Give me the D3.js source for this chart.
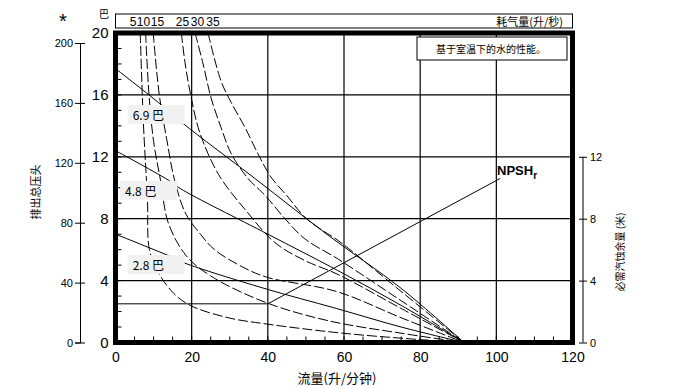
<!DOCTYPE html>
<html>
<head>
<meta charset="utf-8">
<script src="https://d3js.org/d3.v7.min.js"></script>
<style>
  body { margin: 0; background: #fff; }
  text { font-family: "Liberation Sans", Arial, sans-serif; fill: #000; }
  .cjk { font-family: "Noto Sans CJK SC", sans-serif; }
</style>
</head>
<body>
<svg id="chart" width="679" height="389"></svg>
<script>
// flow (L/min) and head (bar) for the three air inlet pressures
var pressureLabels = ["6.9 巴", "4.8 巴", "2.8 巴"];
var p69Flow = [0, 11.3, 17.5, 36.6, 56, 75, 91.5];
var p69Head = [17.7, 15.5, 14.2, 10.6, 6.9, 3.5, 0];
var p48Flow = [0, 14.5, 17, 40, 58, 75, 91.5];
var p48Head = [12.4, 10.4, 9.95, 7.0, 4.7, 2.4, 0];
var p28Flow = [0, 15, 18, 39, 58, 75, 91.5];
var p28Head = [7.0, 5.5, 5.15, 3.5, 2.2, 1.0, 0];

// air consumption curves (L/s)
var airLabels = ["5", "10", "15", "25", "30", "35"];
var air5Flow  = [6.5, 7.3, 8.4, 8.9, 11.3, 15.2, 19.6, 29.6, 39.5, 59.7, 79.3, 91.5];
var air5Head  = [20, 14.3, 9.2, 6.0, 4.5, 3.2, 2.4, 1.6, 1.2, 0.6, 0.2, 0];
var air10Flow = [7.9, 8.8, 10, 11.8, 13.9, 18.6, 25, 39.3, 56, 75, 91.5];
var air10Head = [20, 16, 13, 10.5, 7.7, 5.6, 4.3, 2.6, 1.4, 0.6, 0];
var air15Flow = [9.9, 11.5, 13.4, 15.6, 18.5, 22.3, 26, 34, 40, 58, 75, 91.5];
var air15Head = [20, 16, 13.2, 10.4, 8.3, 7.0, 6.0, 4.8, 4.2, 3.3, 1.6, 0];
var air25Flow = [17.3, 18.3, 19.9, 21.7, 24.3, 27.7, 34, 41.9, 49.7, 58.4, 75, 91.5];
var air25Head = [20, 18, 15.8, 13.9, 12.2, 10.6, 8.6, 6.45, 5.3, 4.4, 2.2, 0];
var air30Flow = [20.9, 23, 25.1, 27.7, 30.4, 34.8, 39.3, 44.5, 49.7, 58.4, 75, 91.5];
var air30Head = [20, 18, 15.8, 13.9, 12.2, 10.6, 9.5, 8.0, 6.7, 5.4, 2.7, 0];
var air35Flow = [24.3, 27.7, 30.4, 34, 37.4, 40.8, 45.3, 49.7, 54, 58.4, 75, 91.5];
var air35Head = [20, 16.9, 15.5, 13.9, 12.2, 10.7, 9.4, 8.1, 7.3, 6.6, 3.3, 0];

// NPSHr (m)
var npshFlow = [0, 40, 101];
var npshValue = [2.5, 2.5, 10.6];

// axis ticks
var flowTicks = [0, 20, 40, 60, 80, 100, 120];
var barTicks = [0, 4, 8, 12, 16, 20];
var feetTicks = [0, 40, 80, 120, 160, 200];
var npshTicks = [0, 4, 8, 12];

var svg = d3.select("#chart");

var x = d3.scaleLinear().domain([0, 120]).range([115.5, 572.5]);
var y = d3.scaleLinear().domain([0, 20]).range([342.5, 33]);
var yFeet = d3.scaleLinear().domain([0, 200]).range([342.5, 43]);
var yNpsh = d3.scaleLinear().domain([0, 20]).range([342.5, 33]);

function zip(a, b) { return a.map(function(v, i) { return [v, b[i]]; }); }

svg.append("clipPath").attr("id", "plot")
  .append("rect").attr("x", x(0)).attr("y", y(20))
  .attr("width", x(120) - x(0)).attr("height", y(0) - y(20));

// grid
var g = svg.append("g");
g.selectAll(".vg").data([20, 40, 60, 80, 100]).enter().append("line")
  .attr("x1", function(d) { return x(d); }).attr("x2", function(d) { return x(d); })
  .attr("y1", y(20)).attr("y2", y(0))
  .attr("stroke", "#000").attr("stroke-width", 1.2);
g.selectAll(".hg").data([4, 8, 12, 16]).enter().append("line")
  .attr("x1", x(0)).attr("x2", x(120))
  .attr("y1", function(d) { return y(d); }).attr("y2", function(d) { return y(d); })
  .attr("stroke", "#000").attr("stroke-width", 1.2);

// minor ticks
g.selectAll(".mx").data(d3.range(5, 120, 5)).enter().append("line")
  .attr("x1", function(d) { return x(d); }).attr("x2", function(d) { return x(d); })
  .attr("y1", y(0)).attr("y2", y(0) - 6)
  .attr("stroke", "#000").attr("stroke-width", 1);
g.selectAll(".my").data(d3.range(1, 20, 1)).enter().append("line")
  .attr("x1", x(0)).attr("x2", x(0) + 6)
  .attr("y1", function(d) { return y(d); }).attr("y2", function(d) { return y(d); })
  .attr("stroke", "#000").attr("stroke-width", 1);

var line = d3.line()
  .x(function(d) { return x(d[0]); })
  .y(function(d) { return y(d[1]); })
  .curve(d3.curveCatmullRom.alpha(0.5));

var curves = svg.append("g").attr("clip-path", "url(#plot)");

var airSeries = [
  zip(air5Flow, air5Head), zip(air10Flow, air10Head), zip(air15Flow, air15Head),
  zip(air25Flow, air25Head), zip(air30Flow, air30Head), zip(air35Flow, air35Head)
];
curves.selectAll(".air").data(airSeries).enter().append("path")
  .attr("d", line)
  .attr("fill", "none").attr("stroke", "#000").attr("stroke-width", 1)
  .attr("stroke-dasharray", "10,3");

var pressSeries = [zip(p69Flow, p69Head), zip(p48Flow, p48Head), zip(p28Flow, p28Head)];
curves.selectAll(".press").data(pressSeries).enter().append("path")
  .attr("d", line)
  .attr("fill", "none").attr("stroke", "#000").attr("stroke-width", 1);

curves.append("path")
  .attr("d", d3.line()
    .x(function(d) { return x(d[0]); })
    .y(function(d) { return yNpsh(d[1]); })(zip(npshFlow, npshValue)))
  .attr("fill", "none").attr("stroke", "#000").attr("stroke-width", 1);

// pressure labels on grey patches
var labelPos = [[3.2, 14.7], [1.2, 9.8], [3.2, 5.0]];
pressureLabels.forEach(function(t, i) {
  var lx = x(labelPos[i][0]), ly = y(labelPos[i][1]);
  svg.append("rect").attr("x", lx).attr("y", ly - 10)
    .attr("width", 57).attr("height", 19).attr("fill", "#f1f1f1");
  svg.append("text").attr("class", "cjk")
    .attr("x", lx + 5).attr("y", ly + 5)
    .attr("font-size", 12).text(t);
});

// thick frame
svg.append("rect").attr("x", x(0)).attr("y", y(20))
  .attr("width", x(120) - x(0)).attr("height", y(0) - y(20))
  .attr("fill", "none").attr("stroke", "#000").attr("stroke-width", 5);

// axes
var ax = svg.append("g").attr("transform", "translate(0," + y(0) + ")")
  .call(d3.axisBottom(x).tickValues(flowTicks).tickSize(0).tickPadding(10));
ax.select(".domain").remove();
ax.selectAll("text").attr("font-size", 14).style("font-family", "Liberation Sans, Arial");

var ay = svg.append("g").attr("transform", "translate(" + x(0) + ",0)")
  .call(d3.axisLeft(y).tickValues(barTicks).tickSize(0).tickPadding(7));
ay.select(".domain").remove();
ay.selectAll("text").attr("font-size", 15).style("font-family", "Liberation Sans, Arial");

var af = svg.append("g").attr("transform", "translate(80,0)")
  .call(d3.axisLeft(yFeet).tickValues(feetTicks).tickSize(5).tickPadding(2));
af.selectAll(".tick line").attr("x2", 5).attr("x1", -5);
af.selectAll("text").attr("font-size", 11).style("font-family", "Liberation Sans, Arial");

var an = svg.append("g").attr("transform", "translate(583,0)")
  .call(d3.axisRight(yNpsh).tickValues(npshTicks).tickSize(5).tickPadding(2));
an.select(".domain").attr("d", "M0," + yNpsh(12) + "V" + yNpsh(0));
an.selectAll(".tick line").attr("x1", -4).attr("x2", 4);
an.selectAll("text").attr("font-size", 11).style("font-family", "Liberation Sans, Arial");

// top air consumption strip
svg.append("rect").attr("x", 115.5).attr("y", 14).attr("width", 457).attr("height", 14)
  .attr("fill", "#fff").attr("stroke", "#000").attr("stroke-width", 1);
var topLabelX = [133, 143.5, 157.5, 182.5, 197.5, 213];
svg.selectAll(".airlab").data(airLabels).enter().append("text")
  .attr("x", function(d, i) { return topLabelX[i]; }).attr("y", 25.5)
  .attr("text-anchor", "middle").attr("font-size", 12)
  .text(function(d) { return d; });
svg.append("text").attr("class", "cjk").attr("x", 563).attr("y", 25.5)
  .attr("text-anchor", "end").attr("font-size", 11).text("耗气量(升/秒)");

svg.append("text").attr("class", "cjk").attr("x", 104).attr("y", 18)
  .attr("text-anchor", "middle").attr("font-size", 10).text("巴");
svg.append("text").attr("x", 63).attr("y", 28)
  .attr("text-anchor", "middle").attr("font-size", 20).text("*");

// note box
svg.append("rect").attr("x", 417).attr("y", 37).attr("width", 150).attr("height", 23)
  .attr("fill", "#fff").attr("stroke", "#000").attr("stroke-width", 1);
svg.append("text").attr("class", "cjk").attr("x", 491).attr("y", 53)
  .attr("text-anchor", "middle").attr("font-size", 10).text("基于室温下的水的性能。");

// NPSHr label
var npl = svg.append("text").attr("x", 497).attr("y", 175)
  .attr("font-size", 13).attr("font-weight", "bold");
npl.append("tspan").text("NPSH");
npl.append("tspan").attr("font-size", 10).attr("dy", 4).text("r");

// axis titles
svg.append("text").attr("class", "cjk").attr("x", 337).attr("y", 383)
  .attr("text-anchor", "middle").attr("font-size", 13).text("流量(升/分钟)");
svg.append("text").attr("class", "cjk")
  .attr("transform", "translate(40,192) rotate(-90)")
  .attr("text-anchor", "middle").attr("font-size", 11).text("排出总压头");
svg.append("text").attr("class", "cjk")
  .attr("transform", "translate(624,252) rotate(-90)")
  .attr("text-anchor", "middle").attr("font-size", 10).text("必需汽蚀余量 (米)");
</script>
</body>
</html>
